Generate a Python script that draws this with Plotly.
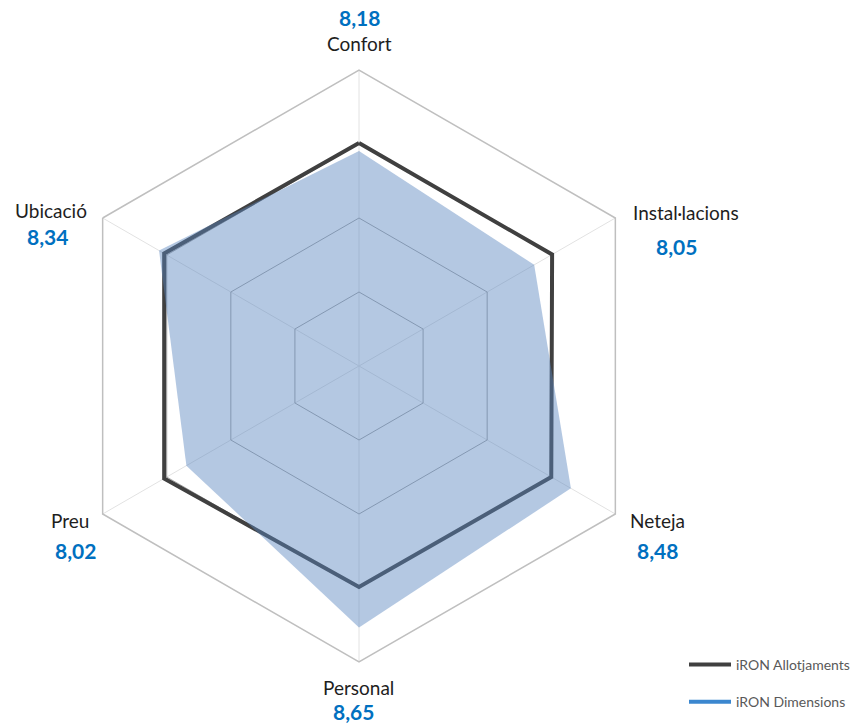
import plotly.graph_objects as go

# categories and values
categories = ["Confort", "Instal·lacions", "Neteja", "Personal", "Preu", "Ubicació"]
allotjaments = [8.26, 8.26, 8.25, 8.24, 8.28, 8.28]
dimensions = [8.18, 8.05, 8.48, 8.65, 8.02, 8.34]
radial_ticks = [6.75, 7.5, 8.25, 9]

W, H = 857, 725
# label placement (pixel centres) for the category names and the values
name_pos = [(359, 43), (686, 212), (657, 520), (358, 687), (70, 520), (51, 210)]
value_pos = [(359, 18), (676, 246), (657, 550), (353, 711), (75, 550), (47, 236)]

fig = go.Figure()

# black line (closed)
fig.add_trace(go.Scatterpolar(
    r=allotjaments + allotjaments[:1],
    theta=categories + categories[:1],
    mode="lines",
    line=dict(color="#404040", width=4),
    showlegend=False,
    hoverinfo="skip",
))
# blue filled area
fig.add_trace(go.Scatterpolar(
    r=dimensions,
    theta=categories,
    mode="lines",
    fill="toself",
    fillcolor="rgba(88,133,191,0.45)",
    line=dict(color="rgba(0,0,0,0)", width=0),
    showlegend=False,
    hoverinfo="skip",
))
# legend entries
fig.add_trace(go.Scatterpolar(r=[None], theta=[categories[0]], mode="lines",
                              name="iRON Allotjaments", legendgroup="a",
                              line=dict(color="#404040", width=4)))
fig.add_trace(go.Scatterpolar(r=[None], theta=[categories[0]], mode="lines",
                              name="iRON Dimensions", legendgroup="b",
                              line=dict(color="#3b87cf", width=4)))

# category + value labels
annots = []
for i, c in enumerate(categories):
    nx, ny = name_pos[i]
    vx, vy = value_pos[i]
    annots.append(dict(x=nx / W, y=1 - ny / H, xref="paper", yref="paper",
                       text=c, showarrow=False, xanchor="center", yanchor="middle",
                       font=dict(family="Lato", size=19, color="#1e1e1e")))
    annots.append(dict(x=vx / W, y=1 - vy / H, xref="paper", yref="paper",
                       text="<b>" + ("%.2f" % dimensions[i]).replace(".", ",") + "</b>",
                       showarrow=False, xanchor="center", yanchor="middle",
                       font=dict(family="Lato", size=21, color="#0070c0")))

cx, cy, R = 359, 366, 296
fig.update_layout(
    width=W, height=H,
    margin=dict(l=0, r=0, t=0, b=0),
    paper_bgcolor="white",
    plot_bgcolor="white",
    font=dict(family="Lato"),
    polar=dict(
        domain=dict(x=[(cx - R) / W, (cx + R) / W], y=[1 - (cy + R) / H, 1 - (cy - R) / H]),
        bgcolor="white",
        gridshape="linear",
        radialaxis=dict(range=[6, 9], tickvals=radial_ticks, showticklabels=False,
                        ticks="", showline=False, gridcolor="#a8a8a8", gridwidth=1.2),
        angularaxis=dict(rotation=90, direction="clockwise", showticklabels=False,
                         ticks="", showline=True, linecolor="#bfbfbf", linewidth=1.5,
                         gridcolor="#e2e2e2", gridwidth=1),
    ),
    legend=dict(x=684 / W, y=1 - 649 / H, xanchor="left", yanchor="top",
                font=dict(family="Lato", size=14, color="#595959"),
                tracegroupgap=16, itemwidth=42, bgcolor="rgba(0,0,0,0)"),
    annotations=annots,
)

# the page has a default 8px body margin; drop it so the figure sits at 0,0
fig.write_html("out.html", config={"displayModeBar": False},
               post_script="document.body.style.margin='0';")
